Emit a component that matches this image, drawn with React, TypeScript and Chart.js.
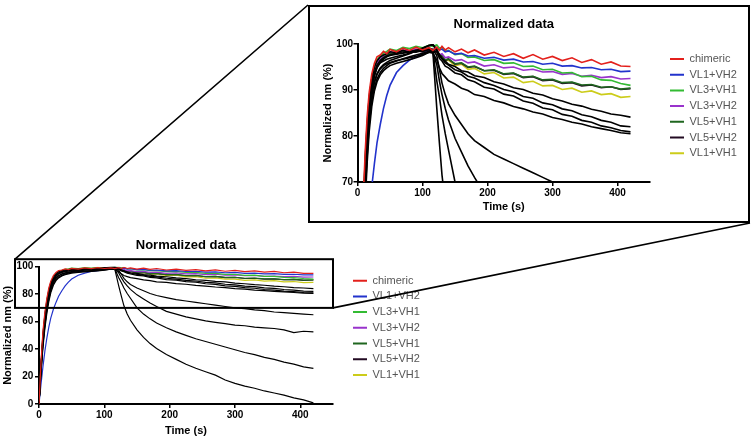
import React, { useEffect, useRef } from 'react';
import { Chart, registerables } from 'chart.js';

Chart.register(...registerables);

const FONT = "'Liberation Sans', Arial, sans-serif";

// time points (s): association 0-116, dissociation 122-420
const timeS = [
  0, 3, 6, 9, 12, 15, 18, 22, 26, 30, 35, 40, 45, 50, 60, 70, 80, 90, 100, 110, 116,
  122, 126, 130, 135, 140, 150, 160, 170, 180, 195, 210, 225, 240, 255, 270, 285, 300, 315, 330, 345, 360, 375, 390, 405, 420,
];

const chimeric = [
  0, 30, 53, 67, 77, 84.5, 89.5, 93.5, 95.8, 97.2, 97.6, 98.4, 97.9, 98.8, 98.3, 99.1, 98.6, 99.3, 98.7, 99.2, 98.6,
  99.3, 98.6, 99.5, 98.7, 99.2, 98.3, 98.9, 98.1, 98.7, 97.6, 98.2, 97.3, 97.9, 96.9, 97.7, 96.7, 97.3, 96.4, 97, 96, 96.6, 95.6, 96.1, 95.2, 95.1,
];
const vl1vh2 = [
  0, 14, 27, 38.5, 48, 56, 62.5, 69, 74, 78.5, 82.5, 86, 88.8, 91, 93.8, 95.3, 96.5, 97.2, 97.9, 98.5, 98.8,
  99.1, 98.7, 98.9, 98.3, 98.5, 97.8, 98, 97.4, 97.5, 96.9, 97.1, 96.5, 96.7, 96.1, 96.2, 95.6, 95.8, 95.2, 95.3, 94.8, 94.9, 94.4, 94.5, 94, 94.1,
];
const vl3vh1 = [
  0, 28, 50, 64.5, 75, 82.5, 88, 92.5, 95, 96.6, 97.3, 98, 98.4, 98.9, 98.6, 99.3, 99, 99.5, 99.2, 99.7, 99.5,
  99.8, 99.1, 99.3, 98.4, 98.6, 97.7, 97.9, 97.1, 97.2, 96.4, 96.6, 95.8, 95.9, 95.1, 95.2, 94.4, 94.5, 93.7, 93.8, 92.9, 93, 92.2, 92.1, 91.4, 91,
];
const vl3vh2 = [
  0, 27, 49, 63, 74, 81.5, 87, 91.8, 94.5, 96, 96.9, 97.5, 97.9, 98.3, 98.1, 98.7, 98.4, 98.9, 98.5, 98.8, 98.4,
  98.4, 97.6, 97.9, 97, 97.2, 96.4, 96.6, 95.9, 96.1, 95.2, 95.5, 94.8, 95, 94.3, 94.5, 93.9, 94, 93.4, 93.6, 93, 93.2, 92.7, 92.9, 92.4, 92.5,
];
const vl5vh1 = [
  0, 26, 47, 61, 72, 80, 86, 90.8, 93.6, 95.4, 96.6, 97.3, 97.6, 98.1, 98, 98.6, 98.3, 98.8, 98.5, 98.9, 98.5,
  98.5, 97.4, 97.6, 96.5, 96.8, 95.7, 95.9, 95, 95.2, 94.2, 94.4, 93.5, 93.7, 92.8, 93, 92.2, 92.3, 91.6, 91.7, 91.1, 91.2, 90.6, 90.7, 90.2, 90.4,
];
const vl5vh2 = [
  0, 25, 46, 60, 71, 79, 85.2, 90.2, 93.2, 95.1, 96.3, 97, 97.4, 97.9, 97.8, 98.4, 98.1, 98.6, 98.3, 98.7, 98.3,
  98.3, 97.3, 97.5, 96.4, 96.7, 95.6, 95.8, 94.9, 95.1, 94.2, 94.3, 93.4, 93.6, 92.7, 92.9, 92, 92.2, 91.4, 91.6, 90.9, 91.1, 90.5, 90.7, 90.1, 90.3,
];
const vl1vh1 = [
  0, 26, 48, 62, 73, 80.5, 86.5, 91.2, 94, 95.7, 96.8, 97.2, 97.8, 98, 98.2, 98.5, 98.3, 98.7, 98.6, 98.9, 98.4,
  98.2, 97.2, 97.3, 96.3, 96.5, 95.3, 95.6, 94.5, 94.7, 93.5, 93.8, 92.6, 92.8, 91.6, 91.9, 90.9, 91, 90.1, 90.4, 89.5, 89.8, 89, 89.2, 88.4, 88.6,
];

// unlabelled black traces
const black1 = [
  0, 24, 44, 58, 69, 77.5, 84, 89, 91.8, 93.5, 94.8, 95.5, 96, 96.4, 96.9, 97.4, 97.9, 98.5, 99.1, 99.6, 99.8,
  98.6, 97.8, 96.9, 96.3, 95.6, 95.1, 94.2, 93.9, 93.1, 92.7, 91.8, 91.3, 90.5, 90.1, 89.3, 88.9, 88.1, 87.6, 86.9, 86.5, 85.8, 85.4, 84.8, 84.5, 84.1,
];
const black2 = [
  0, 27, 48, 62.5, 73, 81, 87, 91, 93.5, 95, 95.9, 96.3, 96.7, 96.9, 97.3, 97.6, 98, 98.5, 99.1, 99.7, 99.9,
  98.9, 97.5, 96.8, 95.9, 95.4, 94.4, 93.9, 93, 92.6, 91.6, 91, 90.1, 89.6, 88.6, 88.2, 87.2, 86.8, 85.9, 85.5, 84.6, 84.2, 83.4, 83, 82.2, 82,
];
const black3 = [
  0, 22, 41, 55, 66, 74.5, 81, 86.5, 89.8, 91.8, 93.3, 94.2, 94.8, 95.3, 95.8, 96.2, 96.6, 97, 97.5, 98.2, 98.6,
  98.3, 96.9, 96.3, 95.2, 94.8, 93.7, 93.3, 92.2, 91.8, 90.6, 90.2, 89.1, 88.7, 87.6, 87.1, 86.1, 85.7, 84.7, 84.3, 83.4, 83, 82.2, 81.8, 81.2, 80.9,
];
const black4 = [
  0, 25, 45, 59, 70, 78, 84, 88.8, 91.6, 93.4, 94.6, 95.3, 95.7, 96, 96.4, 96.7, 97, 97.3, 97.7, 98.2, 98,
  96.5, 94.8, 93.6, 92.8, 92, 91.3, 90.4, 89.9, 89, 88.6, 87.7, 87.2, 86.4, 85.9, 85.2, 84.8, 84, 83.6, 83, 82.6, 82, 81.6, 81.2, 80.7, 80.5,
];
const black5 = [
  0, 27, 48, 62, 72.5, 80.5, 86.5, 91, 93.8, 95.4, 96.4, 97, 97.4, 97.6, 98, 98.1, 98.4, 98.5, 98.8, 99.1, 98.8,
  97.5, 94.5, 91.5, 89, 87, 84.5, 82.5, 80.5, 79, 77.5, 76, 75, 74, 73, 72, 71, 70, 69.5, 68.5, 68, 67, 66.5, 66, 65.5, 65,
];
const black6 = [
  0, 23, 43, 57, 68, 76, 82.5, 87.5, 90.5, 92.4, 93.8, 94.7, 95.3, 95.8, 96.3, 96.8, 97.2, 97.6, 98, 98.4, 98.2,
  95.5, 92, 89, 86, 83.5, 79.5, 76.5, 73.5, 71, 67.5, 65.5, 63.5, 62, 60.5, 59.5, 58.5, 57.5, 57, 56, 55.5, 55, 54, 52, 53, 52.5,
];
const black7 = [
  0, 26, 47, 61, 72, 80, 85.5, 90, 93, 94.8, 96, 96.7, 97.2, 97.5, 97.8, 98, 98.3, 98.2, 98.6, 98.8, 98.4,
  92, 88.5, 84.5, 80.5, 77, 70, 65.5, 62, 59, 55.5, 52.5, 50, 47.5, 45.5, 43.5, 41.5, 39.5, 37.5, 36, 34, 32.5, 30.5, 29, 27, 26,
];
const black8 = [
  0, 29, 51, 65, 75.5, 83, 88.5, 92.5, 95, 96.3, 97.2, 97.6, 97.9, 98.3, 98.1, 98.6, 98.2, 98.7, 98.4, 98.8, 98.2,
  86, 78.5, 71.5, 65.5, 61, 54, 48.5, 44, 40.5, 36, 32.5, 29, 26, 23.5, 21, 17.5, 15, 13, 11.5, 9.5, 8, 6.5, 4.5, 3, 0.8,
];

const seriesNames = ['chimeric', 'VL1+VH2', 'VL3+VH1', 'VL3+VH2', 'VL5+VH1', 'VL5+VH2', 'VL1+VH1'];
const seriesColors = ['#e3201c', '#2233cc', '#33bb33', '#9933cc', '#1f661f', '#220a22', '#cccc1a'];
const seriesValues = [chimeric, vl1vh2, vl3vh1, vl3vh2, vl5vh1, vl5vh2, vl1vh1];
const blackValues = [black1, black2, black3, black4, black5, black6, black7, black8];

const xTicks = { min: 0, max: 450, step: 100 };
const fullRange = { min: 0, max: 100, step: 20 };
const zoomRange = { min: 70, max: 100, step: 10 };

const INSET = { left: 308, top: 5, width: 442, height: 218 };
const LEGEND_GAP = 15.3;

type Frame = {
  w: number;
  h: number;
  padTop: number;
  plotRight: number;
  yAxisWidth: number;
  xAxisHeight: number;
  titleBottom: number;
  yTitleTop: number;
  yTickPad: number;
  xTickPad: number;
  xTitleBottom: number;
  legendShift: number;
  lineWidth: number;
};

const mainFrame: Frame = {
  w: 753, h: 440, padTop: 237.9, plotRight: 333, yAxisWidth: 39, xAxisHeight: 36,
  titleBottom: 13.2, yTitleTop: 1.7, yTickPad: 1.7, xTickPad: 1.7, xTitleBottom: 2.4,
  legendShift: 2.6, lineWidth: 1.2,
};

const insetFrame: Frame = {
  w: INSET.width - 4, h: INSET.height - 4, padTop: 9.2, plotRight: 340, yAxisWidth: 47.5, xAxisHeight: 39,
  titleBottom: 12.2, yTitleTop: 11.7, yTickPad: 0.5, xTickPad: 1, xTitleBottom: 7.4,
  legendShift: 3.6, lineWidth: 1.6,
};

const toPoints = (values: number[]) => values.map((v, i) => ({ x: timeS[i], y: v }));

function buildDatasets(lineWidth: number) {
  // red on top, then the black traces, then the other coloured ones
  const colored = seriesValues.map((vals, i) => ({
    label: seriesNames[i],
    data: toPoints(vals),
    borderColor: seriesColors[i],
    backgroundColor: seriesColors[i],
    borderWidth: lineWidth,
    pointRadius: 0,
    tension: 0,
    yAxisID: 'y',
    order: i === 0 ? 0 : 2,
  }));
  const blacks = blackValues.map((vals) => ({
    label: '',
    data: toPoints(vals),
    borderColor: '#000',
    backgroundColor: '#000',
    borderWidth: lineWidth,
    pointRadius: 0,
    tension: 0,
    yAxisID: 'y',
    order: 1,
  }));
  return [...colored, ...blacks];
}

function buildOptions(f: Frame, range: { min: number; max: number; step: number }) {
  const axisLine = { display: true, color: '#000', width: 2 };
  const tickMarks = { drawOnChartArea: false, drawTicks: true, tickLength: 4, color: '#000', lineWidth: 1.5 };
  const tickFont = { family: FONT, size: 10, weight: 'bold' as const };
  const titleFont = { family: FONT, size: 11, weight: 'bold' as const };
  return {
    responsive: false,
    animation: false as const,
    layout: { padding: { top: f.padTop, right: 100, left: 0, bottom: 0 } },
    scales: {
      x: {
        type: 'linear' as const,
        min: xTicks.min,
        max: xTicks.max,
        border: axisLine,
        grid: tickMarks,
        ticks: { stepSize: xTicks.step, includeBounds: false, color: '#000', font: tickFont, padding: f.xTickPad, maxRotation: 0 },
        title: { display: true, text: 'Time (s)', color: '#000', font: titleFont, padding: { top: 0, bottom: f.xTitleBottom } },
        afterFit: (s: any) => { s.height = f.xAxisHeight; },
      },
      y: {
        type: 'linear' as const,
        min: range.min,
        max: range.max,
        border: axisLine,
        grid: tickMarks,
        ticks: { stepSize: range.step, color: '#000', font: tickFont, padding: f.yTickPad },
        title: { display: true, text: 'Normalized nm (%)', color: '#000', font: titleFont, padding: { top: f.yTitleTop, bottom: 0 } },
        afterFit: (s: any) => { s.width = f.yAxisWidth; },
      },
      gap: {
        type: 'linear' as const,
        position: 'right' as const,
        display: true,
        grid: { display: false },
        border: { display: false },
        ticks: { display: false },
        afterFit: (s: any) => { s.width = LEGEND_GAP; },
      },
    },
    plugins: {
      title: {
        display: true,
        text: 'Normalized data',
        color: '#000',
        fullSize: false,
        font: { family: FONT, size: 13, weight: 'bold' as const },
        padding: { top: 0, bottom: f.titleBottom },
      },
      legend: {
        position: 'right' as const,
        align: 'start' as const,
        fullSize: false,
        maxWidth: 200,
        title: { display: true, text: ' ', font: { size: 1 }, padding: { top: f.legendShift, bottom: 0 } },
        labels: {
          boxWidth: 14,
          boxHeight: 2,
          padding: 4.7,
          color: '#555',
          font: { family: FONT, size: 11 },
          generateLabels: (chart: any) =>
            Chart.defaults.plugins.legend.labels.generateLabels(chart).map((l: any) => ({ ...l, lineWidth: 0 })),
          filter: (item: any) => !!item.text,
        },
      },
      tooltip: { enabled: false },
    },
  };
}

// after the first layout, set the right padding so the plot ends where it should
function placePlotRight(chart: any, f: Frame) {
  const legendWidth = chart.legend.width;
  chart.options.layout.padding = {
    top: f.padTop,
    right: f.w - f.plotRight - LEGEND_GAP - legendWidth,
    left: 0,
    bottom: 0,
  };
  chart.update();
}

// zoom frame on the main chart plus the two connector lines to the inset
const zoomFrame = {
  id: 'zoomFrame',
  afterDraw(chart: any) {
    const { ctx, chartArea, scales } = chart;
    const top = scales.y.getPixelForValue(zoomRange.max) - 7.5;
    const bottom = scales.y.getPixelForValue(zoomRange.min);
    const left = chartArea.left - 24;
    const right = chartArea.right;
    ctx.save();
    ctx.strokeStyle = '#000';
    ctx.lineWidth = 2;
    ctx.strokeRect(left, top, right - left, bottom - top);
    ctx.lineWidth = 1.6;
    ctx.beginPath();
    ctx.moveTo(left, top);
    ctx.lineTo(INSET.left, INSET.top);
    ctx.moveTo(right, bottom);
    ctx.lineTo(INSET.left + INSET.width, INSET.top + INSET.height);
    ctx.stroke();
    ctx.restore();
  },
};

const App: React.FC = () => {
  const mainRef = useRef<HTMLCanvasElement>(null);
  const insetRef = useRef<HTMLCanvasElement>(null);

  useEffect(() => {
    if (!mainRef.current || !insetRef.current) return;
    const main = new Chart(mainRef.current, {
      type: 'line',
      data: { datasets: buildDatasets(mainFrame.lineWidth) },
      options: buildOptions(mainFrame, fullRange) as any,
      plugins: [zoomFrame],
    });
    const inset = new Chart(insetRef.current, {
      type: 'line',
      data: { datasets: buildDatasets(insetFrame.lineWidth) },
      options: buildOptions(insetFrame, zoomRange) as any,
    });
    placePlotRight(main, mainFrame);
    placePlotRight(inset, insetFrame);
    return () => {
      main.destroy();
      inset.destroy();
    };
  }, []);

  return (
    <div style={{ position: 'fixed', left: 0, top: 0, width: 753, height: 440, background: '#fff' }}>
      <canvas ref={mainRef} width={mainFrame.w} height={mainFrame.h} style={{ position: 'absolute', left: 0, top: 0 }} />
      <div
        style={{
          position: 'absolute',
          left: INSET.left,
          top: INSET.top,
          width: INSET.width,
          height: INSET.height,
          boxSizing: 'border-box',
          border: '2px solid #000',
          background: '#fff',
        }}
      >
        <canvas ref={insetRef} width={insetFrame.w} height={insetFrame.h} style={{ display: 'block' }} />
      </div>
    </div>
  );
};

export default App;
